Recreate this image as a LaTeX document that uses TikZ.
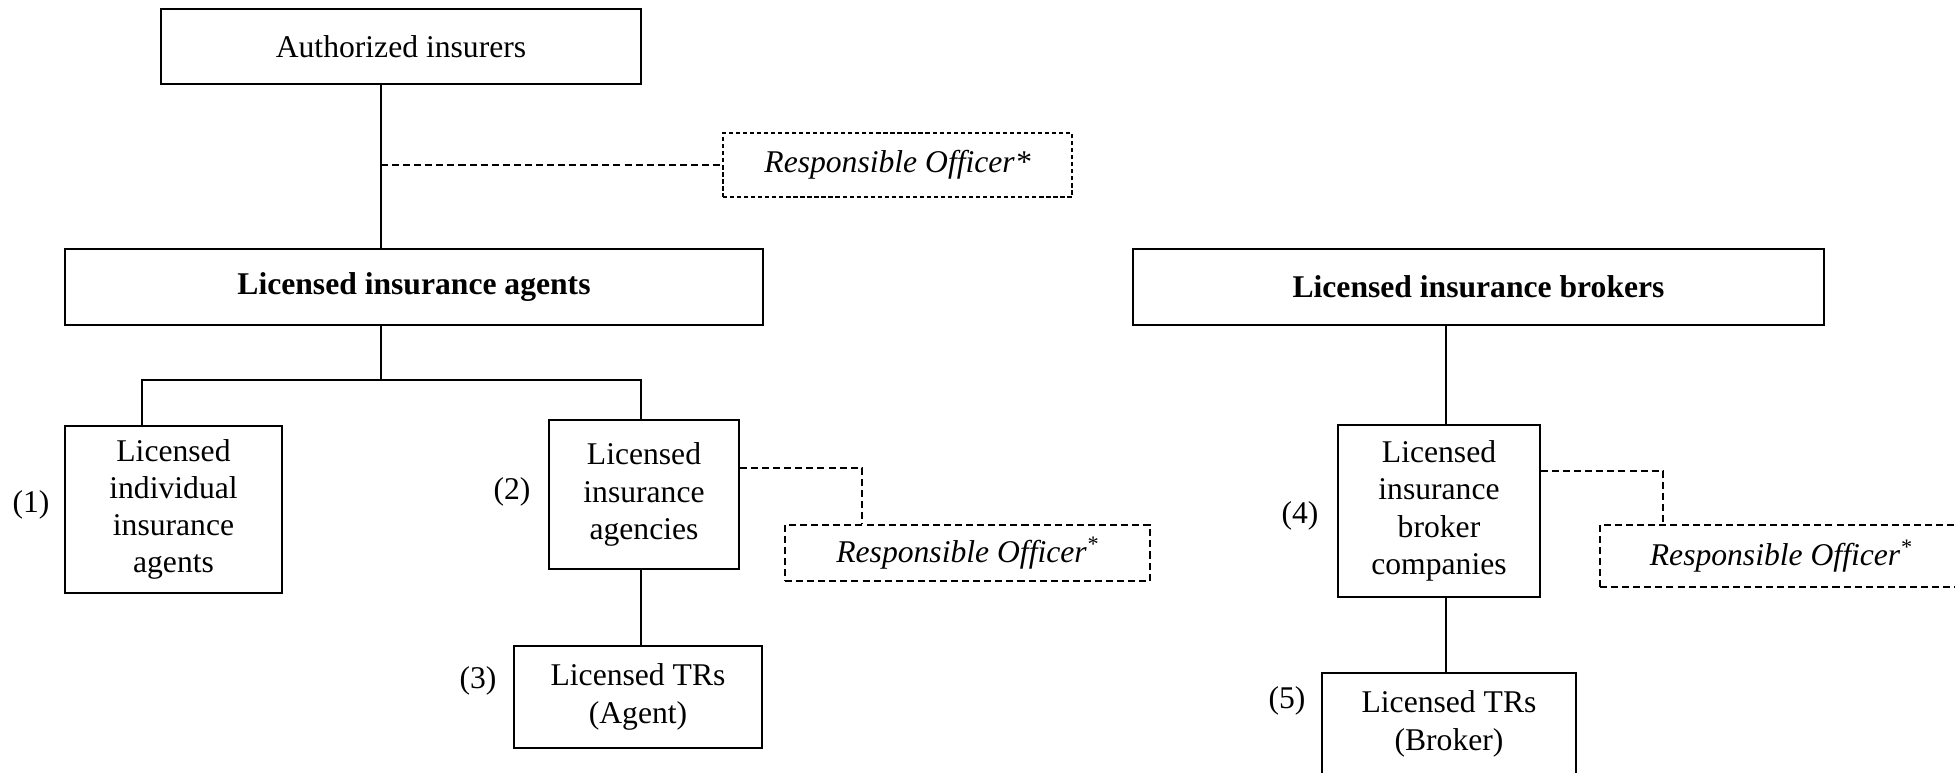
\documentclass[tikz,border=0pt]{standalone}
\usepackage{fontspec}
\setmainfont{Liberation Serif}

\tikzset{
  box/.style={draw, line width=1.1pt, align=center, inner sep=0pt},
  officer/.style={draw, line width=1.1pt, dash pattern=on 4pt off 2.3pt, inner sep=0pt,
    font=\fontsize{18}{21.2}\selectfont\itshape},
  link/.style={line width=0.85pt},
  dlink/.style={line width=1.1pt, dash pattern=on 4pt off 2.3pt}
}

\begin{document}
\begin{tikzpicture}[x=0.02cm, y=-0.02cm, font=\fontsize{18}{21.2}\selectfont]

    \clip (0,0) rectangle (1955,773);

    % Insurers and agents
    \node[box, minimum width=9.6cm, minimum height=1.5cm] (auth) at (401,46.5) {Authorized insurers};
    \node[officer, line width=0.7pt, dash pattern=on 2.4pt off 1.6pt, minimum width=6.98cm, minimum height=1.28cm] (ro1) at (897.5,165) {Responsible Officer*};
    \node[box, font=\fontsize{18}{21.2}\selectfont\bfseries, minimum width=13.96cm, minimum height=1.52cm] (agents) at (414,287) {Licensed insurance agents};

    \node[box, minimum width=4.34cm, minimum height=3.34cm] (indiv) at (173.5,509.5) {Licensed\\individual\\insurance\\agents};
    \node[box, minimum width=3.8cm, minimum height=2.98cm] (agency) at (644,494.5) {Licensed\\insurance\\agencies};
    \node[officer, minimum width=7.3cm, minimum height=1.12cm] (ro2) at (967.5,553) {Responsible Officer\textsuperscript{*}};
    \node[box, minimum width=4.96cm, minimum height=2.04cm] (tragent) at (638,697) {Licensed TRs\\(Agent)};

    % Brokers
    \node[box, font=\fontsize{18}{21.2}\selectfont\bfseries, minimum width=13.82cm, minimum height=1.52cm] (brokers) at (1478.5,287) {Licensed insurance brokers};
    \node[box, minimum width=4.04cm, minimum height=3.44cm] (brokerco) at (1439,511) {Licensed\\insurance\\broker\\companies};
    \node[officer, minimum width=7.24cm, minimum height=1.24cm] (ro3) at (1781,556) {Responsible Officer\textsuperscript{*}};
    \node[box, minimum width=5.08cm, minimum height=2.04cm] (trbroker) at (1449,724) {Licensed TRs\\(Broker)};

    % Numbers
    \node (num1) at (31,505) {(1)};
    \node (num2) at (512,492) {(2)};
    \node (num3) at (478,681) {(3)};
    \node (num4) at (1300,516) {(4)};
    \node (num5) at (1287,701) {(5)};

    % Agent side connectors
    \coordinate (spineA) at (381,380);
    \coordinate (leftA) at (142,380);
    \coordinate (rightA) at (641,380);
    \coordinate (bendA) at (862,468);
    \draw[link] (auth.south -| spineA) -- (agents.north -| spineA);
    \draw[dlink] (spineA |- ro1.west) -- (ro1.west);
    \draw[link] (agents.south -| spineA) -- (spineA);
    \draw[line width=1.1pt] (indiv.north -| leftA) -- (leftA) -- (rightA) -- (agency.north -| rightA);
    \draw[link] (agency.south -| rightA) -- (tragent.north -| rightA);
    \draw[dlink] (agency.east |- bendA) -- (bendA) -- (bendA |- ro2.north);

    % Broker side connectors
    \coordinate (spineB) at (1446,0);
    \coordinate (bendB) at (1663,471);
    \draw[link] (brokers.south -| spineB) -- (brokerco.north -| spineB);
    \draw[link] (brokerco.south -| spineB) -- (trbroker.north -| spineB);
    \draw[dlink] (brokerco.east |- bendB) -- (bendB) -- (bendB |- ro3.north);

\end{tikzpicture}
\end{document}
